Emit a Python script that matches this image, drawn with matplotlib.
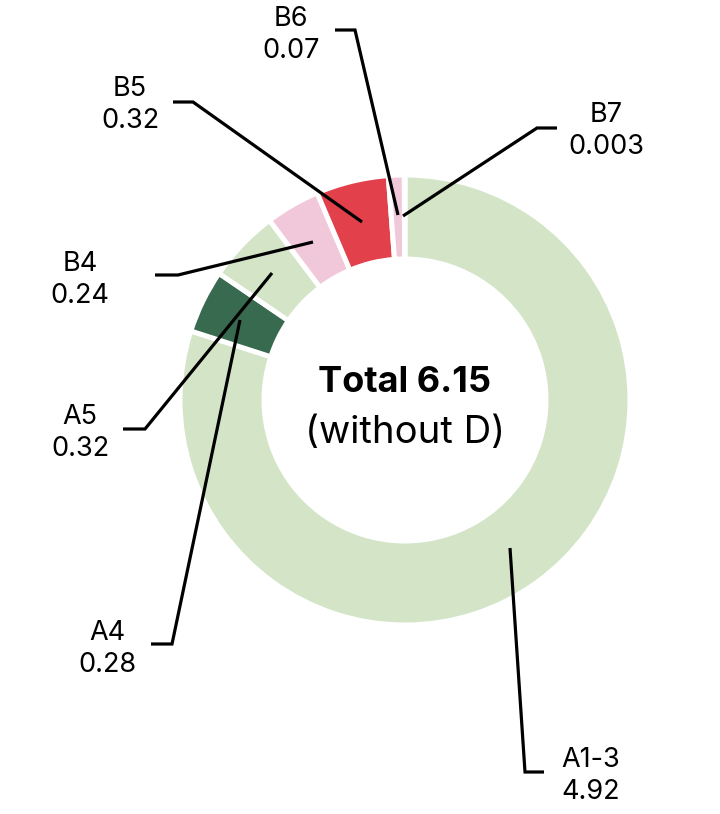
import matplotlib
matplotlib.use("Agg")
import matplotlib.pyplot as plt

# Segment data (clockwise from top)
labels = ["A1-3", "A4", "A5", "B4", "B5", "B6", "B7"]
values = [4.92, 0.28, 0.32, 0.24, 0.32, 0.07, 0.003]
value_text = ["4.92", "0.28", "0.32", "0.24", "0.32", "0.07", "0.003"]
colors = ["#d3e4c7", "#386a4f", "#d3e4c7", "#f1c8da", "#e2404b", "#f1c8da", "#f1c8da"]

total_label = "Total 6.15"
sub_label = "(without D)"

plt.rcParams['font.family'] = ['Inter', 'DejaVu Sans']

W, H = 720, 814
fig = plt.figure(figsize=(7.2, 8.14), dpi=100)
ax = fig.add_axes([0, 0, 1, 1])

cx, cy, R = 405, H - 400, 225
ax.pie(values, colors=colors, startangle=90, counterclock=False,
       center=(cx, cy), radius=R, frame=True,
       wedgeprops=dict(width=84, edgecolor='white', linewidth=3.6))
ax.set_xlim(0, W)
ax.set_ylim(0, H)
ax.set_aspect('equal')
ax.axis('off')

# leader lines in pixel coords (top-left origin): segment point -> elbow -> end
leaders = {
    "A1-3": [(510, 548), (525, 772), (544, 772)],
    "A4": [(240, 320), (172, 644), (151, 644)],
    "A5": [(272, 273), (145, 429), (123, 429)],
    "B4": [(313, 242), (178, 275), (155, 275)],
    "B5": [(362, 222), (193, 102), (173, 102)],
    "B6": [(398, 215), (355, 30), (335, 30)],
    "B7": [(403, 216), (537, 128), (557, 128)],
}
text_pos = {
    "A1-3": (591, 776),
    "A4": (107, 649),
    "A5": (80, 433),
    "B4": (80, 280),
    "B5": (130, 105),
    "B6": (291, 35),
    "B7": (606, 131),
}

for lab, val in zip(labels, value_text):
    pts = leaders[lab]
    ax.plot([p[0] for p in pts], [H - p[1] for p in pts], color='black',
            lw=2.3, solid_joinstyle='miter', solid_capstyle='butt')
    tx, ty = text_pos[lab]
    ax.text(tx, H - ty, f"{lab}\n{val}", ha='center', va='center',
            fontsize=19.5, linespacing=1.3, color='black')

ax.text(cx, H - 383, total_label, ha='center', va='center',
        fontsize=26, fontweight='bold', color='black')
ax.text(cx, H - 433, sub_label, ha='center', va='center',
        fontsize=27.5, color='black')

fig.savefig("out.png", dpi=100)
